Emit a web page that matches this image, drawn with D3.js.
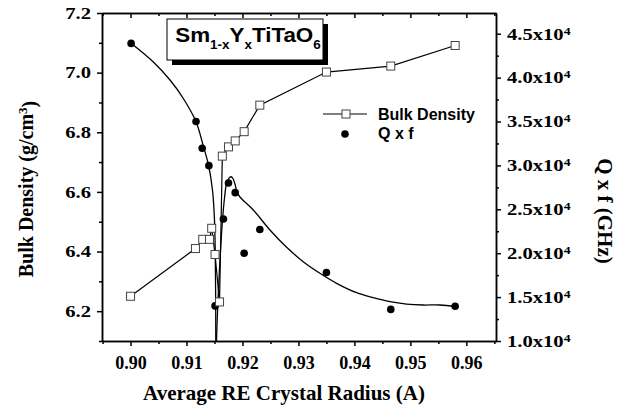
<!DOCTYPE html>
<html><head><meta charset="utf-8">
<script src="https://cdn.jsdelivr.net/npm/d3@7"></script>
<style>
html,body{margin:0;padding:0;background:#fff;}
svg{display:block;}
</style></head>
<body>
<svg id="chart" width="624" height="405"></svg>
<script>
// ---- data ----
const radiusTicks = [0.90, 0.91, 0.92, 0.93, 0.94, 0.95, 0.96];
const densityTicks = [6.2, 6.4, 6.6, 6.8, 7.0, 7.2];
const qfTicks = [10000, 15000, 20000, 25000, 30000, 35000, 40000, 45000];

const densityX = [0.9000, 0.9116, 0.9129, 0.9141, 0.9145, 0.9151, 0.9159, 0.9164, 0.9175, 0.9187, 0.9203, 0.9231, 0.9350, 0.9465, 0.9580];
const densityY = [6.250, 6.410, 6.441, 6.441, 6.478, 6.390, 6.231, 6.720, 6.751, 6.771, 6.802, 6.891, 7.002, 7.022, 7.091];

const qfX = [0.9001, 0.9117, 0.9128, 0.9140, 0.9151, 0.9166, 0.9175, 0.9187, 0.9203, 0.9231, 0.9350, 0.9465, 0.9580];
const qfY = [43900, 35000, 31950, 29970, 14000, 23900, 28000, 26900, 20000, 22700, 17800, 13600, 13950];

// fitted curves (two branches)
const fitLeftX = [0.90009, 0.90407, 0.90705, 0.90943, 0.91170, 0.91295, 0.91393, 0.91464, 0.91496, 0.91513, 0.91520, 0.91523, 0.91525];
const fitLeftY = [43906, 41777, 39727, 37620, 34977, 32323, 30046, 27198, 24351, 20364, 15809, 10000, 7836];
const fitRightX = [0.91532, 0.91536, 0.91563, 0.91598, 0.91643, 0.91679, 0.91714, 0.91759, 0.91795, 0.91830, 0.91866, 0.91902, 0.91955, 0.92193, 0.92491, 0.92789, 0.93086, 0.93384, 0.93682, 0.94039, 0.94336, 0.94634, 0.94932, 0.95229, 0.95527, 0.95813];
const fitRightY = [8000, 10000, 14670, 19230, 23780, 26290, 27880, 28560, 28710, 28510, 27880, 26970, 26400, 24920, 22640, 20670, 19030, 17710, 16570, 15500, 14930, 14480, 14210, 14100, 14100, 13910];

// ---- layout ----
const svg = d3.select("#chart");
const L = 102, R = 496, T = 13, B = 341;
const x = d3.scaleLinear().domain([0.8949, 0.9653]).range([L, R]);
const yL = d3.scaleLinear().domain([6.1, 7.2]).range([B, T]);
const yR = d3.scaleLinear().domain([10000, 47360]).range([B, T]);

const serif = "'Liberation Serif','Times New Roman',serif";
const sans = "'Liberation Sans',Arial,sans-serif";

svg.append("defs").append("clipPath").attr("id", "clip")
  .append("rect").attr("x", L).attr("y", T).attr("width", R - L).attr("height", B - T);

function styleAxis(g, fs) {
  g.selectAll("path,line").attr("stroke", "#000").attr("stroke-width", 1.5);
  g.selectAll("text").attr("font-family", serif).attr("font-weight", "bold").attr("font-size", fs || 18).attr("fill", "#000");
}

const minorX = d3.range(0.895, 0.9655, 0.01);
// bottom axis
svg.append("g").attr("transform", `translate(0,${B})`)
  .call(d3.axisBottom(x).tickValues(minorX).tickSize(3).tickSizeOuter(0).tickFormat(""))
  .call(styleAxis);
svg.append("g").attr("transform", `translate(0,${B})`)
  .call(d3.axisBottom(x).tickValues(radiusTicks).tickSize(5).tickSizeOuter(0).tickPadding(10).tickFormat(d3.format(".2f")))
  .call(g => styleAxis(g, 18));
// top axis (inward ticks)
svg.append("g").attr("transform", `translate(0,${T})`)
  .call(d3.axisTop(x).tickValues(minorX).tickSize(-3).tickSizeOuter(0).tickFormat(""))
  .call(styleAxis);
svg.append("g").attr("transform", `translate(0,${T})`)
  .call(d3.axisTop(x).tickValues(radiusTicks).tickSize(-5).tickSizeOuter(0).tickFormat(""))
  .call(styleAxis);

const SX = 1.25; // horizontal stretch of the vertical-axis tick labels
// left axis
const minorL = d3.range(6.1, 7.15, 0.2);
svg.append("g").attr("transform", `translate(${L},0)`)
  .call(d3.axisLeft(yL).tickValues(minorL).tickSize(3).tickSizeOuter(0).tickFormat(""))
  .call(styleAxis);
const gL = svg.append("g").attr("transform", `translate(${L},0)`)
  .call(d3.axisLeft(yL).tickValues(densityTicks).tickSize(5).tickSizeOuter(0).tickPadding(6).tickFormat(d3.format(".1f")))
  .call(g => styleAxis(g, 16.5));
gL.selectAll(".tick text").attr("x", -11 / SX).attr("transform", `scale(${SX},1)`);
// right axis
const minorR = d3.range(12500, 47000, 5000);
svg.append("g").attr("transform", `translate(${R},0)`)
  .call(d3.axisRight(yR).tickValues(minorR).tickSize(3).tickSizeOuter(0).tickFormat(""))
  .call(styleAxis);
const gR = svg.append("g").attr("transform", `translate(${R},0)`)
  .call(d3.axisRight(yR).tickValues(qfTicks).tickSize(5).tickSizeOuter(0).tickPadding(6))
  .call(g => styleAxis(g, 16.5));
gR.selectAll(".tick text").each(function(d) {
  const t = d3.select(this);
  t.text(null);
  t.attr("x", 11 / SX).attr("transform", `scale(${SX},1)`);
  t.append("tspan").text(d3.format(".1f")(d / 10000) + "x10");
  t.append("tspan").attr("dy", "-0.45em").attr("font-size", 11).text("4");
});

// axis titles
svg.append("text").attr("x", 284).attr("y", 400).attr("text-anchor", "middle")
  .attr("font-family", serif).attr("font-weight", "bold").attr("font-size", 21)
  .text("Average RE Crystal Radius (A)");
const yt = svg.append("text").attr("transform", "translate(33,189) rotate(-90)").attr("text-anchor", "middle")
  .attr("font-family", serif).attr("font-weight", "bold").attr("font-size", 20);
yt.append("tspan").text("Bulk Density (g/cm");
yt.append("tspan").attr("dy", "-0.45em").attr("font-size", 13).text("3");
yt.append("tspan").attr("dy", "0.45em").text(")");
svg.append("text").attr("transform", "translate(598,211) rotate(90)").attr("text-anchor", "middle")
  .attr("font-family", serif).attr("font-weight", "bold").attr("font-size", 21)
  .text("Q x f (GHz)");

// ---- marks ----
const plot = svg.append("g").attr("clip-path", "url(#clip)");
const dens = densityX.map((v, i) => [v, densityY[i]]);
const qf = qfX.map((v, i) => [v, qfY[i]]);
const fitL = fitLeftX.map((v, i) => [v, fitLeftY[i]]);
const fitR = fitRightX.map((v, i) => [v, fitRightY[i]]);

const lineQ = d3.line().x(d => x(d[0])).y(d => yR(d[1])).curve(d3.curveCatmullRom.alpha(0.5));
plot.append("path").attr("d", lineQ(fitL)).attr("fill", "none").attr("stroke", "#000").attr("stroke-width", 1.3);
plot.append("path").attr("d", lineQ(fitR)).attr("fill", "none").attr("stroke", "#000").attr("stroke-width", 1.3);

const lineD = d3.line().x(d => x(d[0])).y(d => yL(d[1]));
plot.append("path").attr("d", lineD(dens)).attr("fill", "none").attr("stroke", "#000").attr("stroke-width", 1.2);

plot.selectAll("circle.q").data(qf).join("circle").attr("class", "q")
  .attr("cx", d => x(d[0])).attr("cy", d => yR(d[1])).attr("r", 3.8).attr("fill", "#000");

const S = 8;
plot.selectAll("rect.d").data(dens).join("rect").attr("class", "d")
  .attr("x", d => x(d[0]) - S / 2).attr("y", d => yL(d[1]) - S / 2)
  .attr("width", S).attr("height", S).attr("fill", "#fff").attr("stroke", "#444").attr("stroke-width", 1);

// ---- title box ----
svg.append("rect").attr("x", 172).attr("y", 24).attr("width", 156).attr("height", 41).attr("fill", "#000");
svg.append("rect").attr("x", 167).attr("y", 19).attr("width", 156).attr("height", 41).attr("fill", "#fff").attr("stroke", "#000").attr("stroke-width", 1);
const tt = svg.append("text").attr("transform", "translate(248,42) scale(1.12,1)").attr("text-anchor", "middle")
  .attr("font-family", sans).attr("font-weight", "bold").attr("font-size", 20);
tt.append("tspan").text("Sm");
tt.append("tspan").attr("font-size", 12).attr("dy", 7).text("1-x");
tt.append("tspan").attr("dy", -7).text("Y");
tt.append("tspan").attr("font-size", 12).attr("dy", 7).text("x");
tt.append("tspan").attr("dy", -7).text("TiTaO");
tt.append("tspan").attr("font-size", 12).attr("dy", 7).text("6");

// ---- legend ----
svg.append("line").attr("x1", 323).attr("x2", 367).attr("y1", 114).attr("y2", 114).attr("stroke", "#000").attr("stroke-width", 1.2);
svg.append("rect").attr("x", 346 - S / 2).attr("y", 114 - S / 2).attr("width", S).attr("height", S)
  .attr("fill", "#fff").attr("stroke", "#444").attr("stroke-width", 1);
svg.append("circle").attr("cx", 345).attr("cy", 134).attr("r", 3.8).attr("fill", "#000");
svg.append("text").attr("x", 378).attr("y", 119.5).attr("font-family", sans).attr("font-weight", "bold").attr("font-size", 16).text("Bulk Density");
svg.append("text").attr("x", 378).attr("y", 139).attr("font-family", sans).attr("font-weight", "bold").attr("font-size", 16).text("Q x f");
</script>
</body></html>
